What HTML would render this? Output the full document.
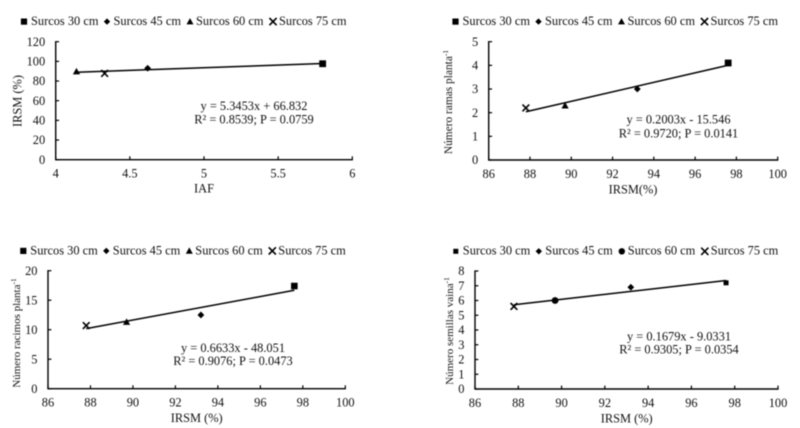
<!DOCTYPE html>
<html lang="es">
<head>
<meta charset="utf-8">
<title>Regresiones IRSM</title>
<style>
html,body{margin:0;padding:0;background:#fff;width:800px;height:428px;overflow:hidden}
svg{display:block;filter:blur(0.45px)}
text{font-family:"Liberation Serif",serif;font-size:12.4px;fill:#111}
</style>
</head>
<body>
<svg id="chart" width="800" height="428" viewBox="0 0 800 428" xmlns="http://www.w3.org/2000/svg"></svg>
<script>
// Shared legend labels
const legendLabels = ["Surcos 30 cm", "Surcos 45 cm", "Surcos 60 cm", "Surcos 75 cm"];

// Panel 1: IRSM vs IAF
const iafValues = [5.8, 4.62, 4.14, 4.33];
const irsmFromIaf = [97.6, 93, 89.7, 87.8];
const iafTicks = [4, 4.5, 5, 5.5, 6];
const irsmTicks = [0, 20, 40, 60, 80, 100, 120];

// Shared x values for panels 2 to 4
const irsmValues = [97.6, 93.2, 89.7, 87.8];
const irsmAxisTicks = [86, 88, 90, 92, 94, 96, 98, 100];

// Panel 2: branches per plant
const ramasValues = [4.1, 3.0, 2.3, 2.2];
const ramasTicks = [0, 1, 2, 3, 4, 5];

// Panel 3: racemes per plant
const racimosValues = [17.4, 12.5, 11.3, 10.7];
const racimosTicks = [0, 5, 10, 15, 20];

// Panel 4: seeds per pod
const semillasValues = [7.2, 6.9, 6.0, 5.6];
const semillasTicks = [0, 1, 2, 3, 4, 5, 6, 7, 8];

const panels = [
  {name:"iaf", xs:iafValues, ys:irsmFromIaf, xTicks:iafTicks, yTicks:irsmTicks,
   slope:5.3453, intercept:66.832,
   plot:{l:55.7,r:352.3,t:41.7,b:159.7},
   markers:["square","diamond","triangle","cross"], legendX:0, legendY:25, squareSize:6.8, legendSquare:6.2,
   xTitle:"IAF", xTitlePos:[204,192.7], yTitle:"IRSM (%)", ySup:"", yTitlePos:[21.5,101], yTitleSize:12.4,
   eq:["y = 5.3453x + 66.832","R² = 0.8539; P = 0.0759"], eqPos:[[254,110],[254,123.3]]},
  {name:"ramas", xs:irsmValues, ys:ramasValues, xTicks:irsmAxisTicks, yTicks:ramasTicks,
   slope:0.2003, intercept:-15.546,
   plot:{l:488.7,r:777.7,t:41.7,b:160},
   markers:["square","diamond","triangle","cross"], legendX:431.5, legendY:25, squareSize:6.8, legendSquare:6.2,
   xTitle:"IRSM(%)", xTitlePos:[633,193.7], yTitle:"Número ramas planta", ySup:"-1", yTitlePos:[452,102], yTitleSize:11.4,
   eq:["y = 0.2003x - 15.546","R² = 0.9720; P = 0.0141"], eqPos:[[678.5,123.7],[678.5,137.3]]},
  {name:"racimos", xs:irsmValues, ys:racimosValues, xTicks:irsmAxisTicks, yTicks:racimosTicks,
   slope:0.6633, intercept:-48.051,
   plot:{l:48,r:345.3,t:270.7,b:388.7},
   markers:["square","diamond","triangle","cross"], legendX:-0.7, legendY:254.3, squareSize:6.6, legendSquare:6.2,
   xTitle:"IRSM (%)", xTitlePos:[196.7,422], yTitle:"Número racimos planta", ySup:"-1", yTitlePos:[20,333], yTitleSize:11,
   eq:["y = 0.6633x - 48.051","R² = 0.9076; P = 0.0473"], eqPos:[[233,352],[233,365]]},
  {name:"semillas", xs:irsmValues, ys:semillasValues, xTicks:irsmAxisTicks, yTicks:semillasTicks,
   slope:0.1679, intercept:-9.0331,
   plot:{l:475,r:778,t:271,b:389},
   markers:["square","diamond","circle","cross"], legendX:431.8, legendY:254.7, squareSize:5, legendSquare:5,
   xTitle:"IRSM (%)", xTitlePos:[626.7,422.7], yTitle:"Número semillas vaina", ySup:"-1", yTitlePos:[453,331], yTitleSize:11,
   eq:["y = 0.1679x - 9.0331","R² = 0.9305; P = 0.0354"], eqPos:[[679,340.7],[679,353.3]]}
];

const NS = "http://www.w3.org/2000/svg";
const root = document.getElementById("chart");
const ink = "#000";

function make(tag, attrs, parent){
  const el = document.createElementNS(NS, tag);
  for (const k in attrs) el.setAttribute(k, attrs[k]);
  parent.appendChild(el);
  return el;
}

function drawMarker(kind, cx, cy, s, parent){
  if (kind === "square"){
    return make("rect", {x:cx-s/2, y:cy-s/2, width:s, height:s, fill:ink}, parent);
  }
  if (kind === "diamond"){
    return make("polygon", {points:[cx,cy-s,cx+s,cy,cx,cy+s,cx-s,cy].join(","), fill:ink}, parent);
  }
  if (kind === "triangle"){
    return make("polygon", {points:[cx,cy-s,cx+s,cy+s*0.8,cx-s,cy+s*0.8].join(","), fill:ink}, parent);
  }
  if (kind === "circle"){
    return make("circle", {cx:cx, cy:cy, r:s, fill:ink}, parent);
  }
  return make("path", {d:"M"+(cx-s)+" "+(cy-s)+"L"+(cx+s)+" "+(cy+s)+"M"+(cx+s)+" "+(cy-s)+"L"+(cx-s)+" "+(cy+s), stroke:ink, "stroke-width":1.6, fill:"none"}, parent);
}

function pointSize(kind, p){
  if (kind === "square") return p.squareSize;
  if (kind === "circle") return 3.4;
  if (kind === "triangle") return 3.6;
  if (kind === "diamond") return 3.4;
  return 3.4;
}

function legendSize(kind, p){
  if (kind === "square") return p.legendSquare;
  if (kind === "circle") return 3.2;
  if (kind === "triangle") return 3.5;
  if (kind === "diamond") return 3.2;
  return 3.6;
}

panels.forEach(function(p){
  const g = make("g", {}, root);
  
  

  const xMin = p.xTicks[0], xMax = p.xTicks[p.xTicks.length-1];
  const yMin = p.yTicks[0], yMax = p.yTicks[p.yTicks.length-1];
  const sx = function(v){ return p.plot.l + (v-xMin)/(xMax-xMin)*(p.plot.r-p.plot.l); };
  const sy = function(v){ return p.plot.b - (v-yMin)/(yMax-yMin)*(p.plot.b-p.plot.t); };

  // Axes
  const yAxis = make("line", {x1:p.plot.l, x2:p.plot.l, y1:p.plot.t-0.6, y2:p.plot.b+0.6, stroke:ink, "stroke-width":1.4}, g);
  
  
  const xAxis = make("line", {x1:p.plot.l, x2:p.plot.r+0.6, y1:p.plot.b, y2:p.plot.b, stroke:ink, "stroke-width":1.4}, g);
  
  

  // Ticks and tick labels
  p.yTicks.forEach(function(v){
    const y = sy(v);
    const tick = make("line", {x1:p.plot.l, x2:p.plot.l+3.4, y1:y, y2:y, stroke:ink, "stroke-width":1.2}, g);
    
    
    const t = make("text", {x:p.plot.l-10.5, y:y+4.2, "text-anchor":"end"}, g);
    t.textContent = v;
    
    
  });
  p.xTicks.forEach(function(v){
    const x = sx(v);
    const tick = make("line", {x1:x, x2:x, y1:p.plot.b, y2:p.plot.b-3.4, stroke:ink, "stroke-width":1.2}, g);
    
    
    const t = make("text", {x:x, y:p.plot.b+18, "text-anchor":"middle"}, g);
    t.textContent = v;
    
    
  });

  // Axis titles
  const xt = make("text", {x:p.xTitlePos[0], y:p.xTitlePos[1], "text-anchor":"middle"}, g);
  xt.textContent = p.xTitle;
  
  

  const yt = make("text", {"text-anchor":"middle", transform:"translate("+p.yTitlePos[0]+" "+p.yTitlePos[1]+") rotate(-90)"}, g);
  yt.style.fontSize = p.yTitleSize + "px";
  
  
  yt.appendChild(document.createTextNode(p.yTitle));
  if (p.ySup){
    const sup = make("tspan", {dy:-4}, yt);
    sup.style.fontSize = "7.5px";
    sup.textContent = p.ySup;
  }

  // Trend line across the data range
  const loX = Math.min.apply(null, p.xs), hiX = Math.max.apply(null, p.xs);
  const trend = make("line", {x1:sx(loX), y1:sy(p.slope*loX+p.intercept), x2:sx(hiX), y2:sy(p.slope*hiX+p.intercept), stroke:ink, "stroke-width":1.5}, g);
  
  

  // Data points
  p.xs.forEach(function(xv, i){
    const m = drawMarker(p.markers[i], sx(xv), sy(p.ys[i]), pointSize(p.markers[i], p), g);
    
    
  });

  // Legend
  const legendTextX = [31, 113.5, 196, 279];
  const legendMarkX = [24, 107, 190, 273];
  legendLabels.forEach(function(label, i){
    const entry = make("g", {}, g);
    
    
    const kind = p.markers[i];
    drawMarker(kind, legendMarkX[i]+p.legendX, p.legendY-3.4, legendSize(kind, p), entry);
    const t = make("text", {x:legendTextX[i]+p.legendX, y:p.legendY}, entry);
    t.textContent = label;
  });

  // Regression equation
  p.eq.forEach(function(line, i){
    const t = make("text", {x:p.eqPos[i][0], y:p.eqPos[i][1], "text-anchor":"middle"}, g);
    t.textContent = line;
    
    
  });
});
</script>
</body>
</html>
